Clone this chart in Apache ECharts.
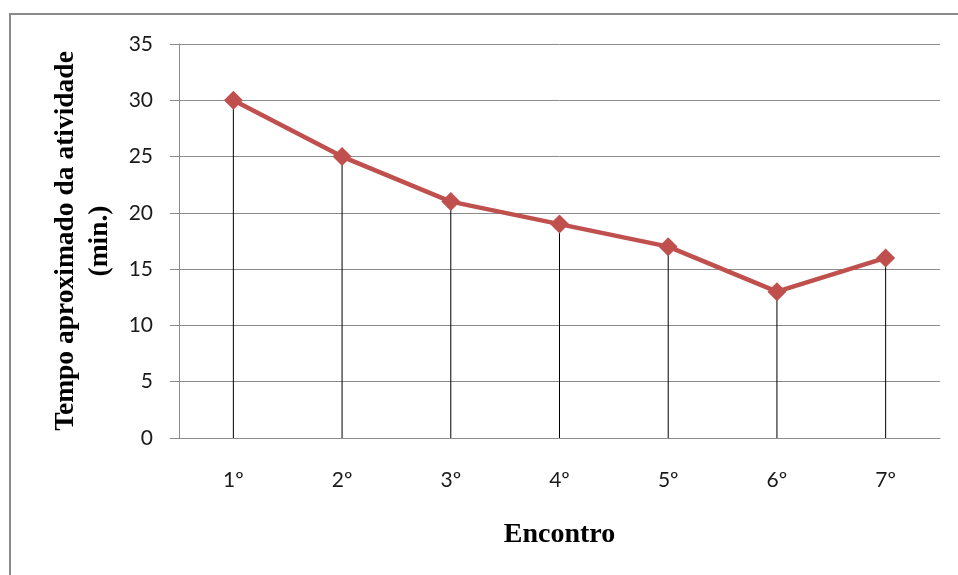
<!DOCTYPE html>
<html>
<head>
<meta charset="utf-8">
<script src="https://cdn.jsdelivr.net/npm/echarts@6/dist/echarts.min.js"></script>
<style>html,body{margin:0;padding:0;background:#fff;}#c{width:958px;height:575px;}</style>
</head>
<body>
<div id="c"></div>
<script>
var categories = ['1º', '2º', '3º', '4º', '5º', '6º', '7º'];
var tempo = [30, 25, 21, 19, 17, 13, 16];
var yTitle = 'Tempo aproximado da atividade\n(min.)';
var xTitle = 'Encontro';

var chart = echarts.init(document.getElementById('c'), null, {renderer: 'canvas'});
chart.setOption({
  backgroundColor: '#fff',
  animation: false,
  graphic: [{
    type: 'rect', silent: true,
    shape: {x: 10, y: 14, width: 980, height: 620},
    style: {fill: 'none', stroke: '#8a8a8a', lineWidth: 2}
  }],
  grid: {left: 179, right: 18, top: 44, bottom: 137},
  xAxis: {
    type: 'category',
    data: categories,
    boundaryGap: true,
    axisLine: {show: true, lineStyle: {color: '#8c8c8c', width: 1}},
    axisTick: {show: false},
    axisLabel: {fontFamily: 'Lato', fontSize: 21, color: '#1a1a1a', margin: 32},
    name: xTitle,
    nameLocation: 'middle',
    nameGap: 83,
    nameTextStyle: {fontFamily: 'Liberation Serif', fontWeight: 'bold', fontSize: 28, color: '#000'}
  },
  yAxis: {
    type: 'value',
    min: 0, max: 35, interval: 5,
    axisLine: {show: true, lineStyle: {color: '#8c8c8c', width: 1}},
    axisTick: {show: true, length: 9, lineStyle: {color: '#8c8c8c'}},
    axisLabel: {fontFamily: 'Lato', fontSize: 21, color: '#1a1a1a', margin: 26},
    splitLine: {show: true, lineStyle: {color: '#8c8c8c', width: 1}},
    name: yTitle,
    nameLocation: 'middle',
    nameRotate: 90,
    nameGap: 62,
    nameTextStyle: {fontFamily: 'Liberation Serif', fontWeight: 'bold', fontSize: 27.5, color: '#000', lineHeight: 34, align: 'center'}
  },
  series: [{
    type: 'bar',
    data: tempo,
    barWidth: 1,
    silent: true,
    itemStyle: {color: '#000'},
    z: 1
  }, {
    type: 'line',
    data: tempo,
    symbol: 'diamond',
    symbolSize: 19,
    lineStyle: {color: '#C0504D', width: 4.5},
    itemStyle: {color: '#C0504D'},
    z: 3
  }]
});
</script>
</body>
</html>
